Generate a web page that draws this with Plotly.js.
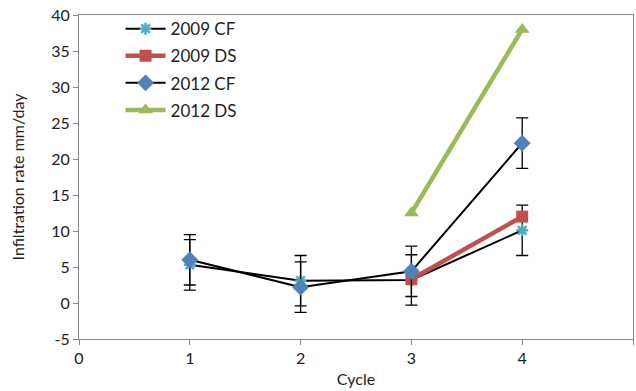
<!DOCTYPE html>
<html>
<head>
<meta charset="utf-8">
<script src="https://cdn.plot.ly/plotly-3.0.1.min.js"></script>
<style>html,body{margin:0;padding:0;background:#fff;}#chart{width:636px;height:391px;}</style>
</head>
<body>
<div id="chart"></div>
<script>
const cycles = [1, 2, 3, 4];
const cf2009 = [5.3, 3.1, 3.2, 10.1];
const cf2009Err = [3.5, 3.5, 3.5, 3.5];
const ds2009 = [null, null, 3.3, 12.0];
const cf2012 = [6.0, 2.2, 4.4, 22.2];
const cf2012Err = [3.5, 3.5, 3.5, 3.5];
const ds2012 = [null, null, 12.5, 38.0];
const xTicks = [0, 1, 2, 3, 4, 5];
const yTicks = [-5, 0, 5, 10, 15, 20, 25, 30, 35, 40];

const FONT = 'Lato, "Open Sans", sans-serif';
const errStyle = {type: 'data', visible: true, color: '#000', thickness: 1.3, width: 6};

const traces = [
  {x: cycles, y: cf2009, name: '2009 CF', mode: 'lines+markers', legendgroup: 'a',
   line: {color: '#000', width: 2},
   marker: {symbol: 'asterisk-open', size: 10, color: '#4BACC6', line: {color: '#4BACC6', width: 2.5}},
   error_y: Object.assign({array: cf2009Err}, errStyle)},
  {x: cycles, y: ds2009, name: '2009 DS', mode: 'lines+markers', legendgroup: 'b',
   line: {color: '#C0504D', width: 4.5},
   marker: {symbol: 'square', size: 12, color: '#C0504D'}},
  {x: cycles, y: cf2012, name: '2012 CF', mode: 'lines+markers', legendgroup: 'c',
   line: {color: '#000', width: 2},
   marker: {symbol: 'diamond', size: 13, color: '#4F81BD'},
   error_y: Object.assign({array: cf2012Err}, errStyle)},
  {x: cycles, y: ds2012, name: '2012 DS', mode: 'lines+markers', legendgroup: 'd',
   line: {color: '#9BBB59', width: 4.5},
   marker: {symbol: 'triangle-up', size: 13, color: '#9BBB59'}}
];

const layout = {
  width: 636, height: 391,
  margin: {l: 79, r: 3, t: 15, b: 52},
  paper_bgcolor: '#fff', plot_bgcolor: '#fff',
  font: {family: FONT, size: 16, color: '#222'},
  showlegend: true,
  legend: {x: 0.075, y: 1.012, xanchor: 'left', yanchor: 'top', bgcolor: 'rgba(0,0,0,0)',
           font: {size: 17, color: '#222'}, tracegroupgap: 2, itemwidth: 40},
  xaxis: {range: [0, 5], tickvals: xTicks, ticktext: xTicks.map(String),
          showgrid: false, zeroline: false, showline: true, linecolor: '#868686', linewidth: 1,
          mirror: true, ticks: 'outside', ticklen: 5, tickcolor: '#868686',
          tickfont: {size: 16, color: '#222'},
          title: {text: 'Cycle', font: {size: 16, color: '#222'}, standoff: 7}},
  yaxis: {range: [-5, 40], tickvals: yTicks, ticktext: yTicks.map(String),
          showgrid: false, zeroline: false, showline: true, linecolor: '#868686', linewidth: 1,
          mirror: true, ticks: 'outside', ticklen: 5, tickcolor: '#868686',
          tickfont: {size: 16, color: '#222'},
          title: {text: 'Infiltration rate mm/day', font: {size: 16, color: '#222'}, standoff: 22}}
};

Plotly.newPlot('chart', traces, layout, {displayModeBar: false, staticPlot: true});
</script>
</body>
</html>
